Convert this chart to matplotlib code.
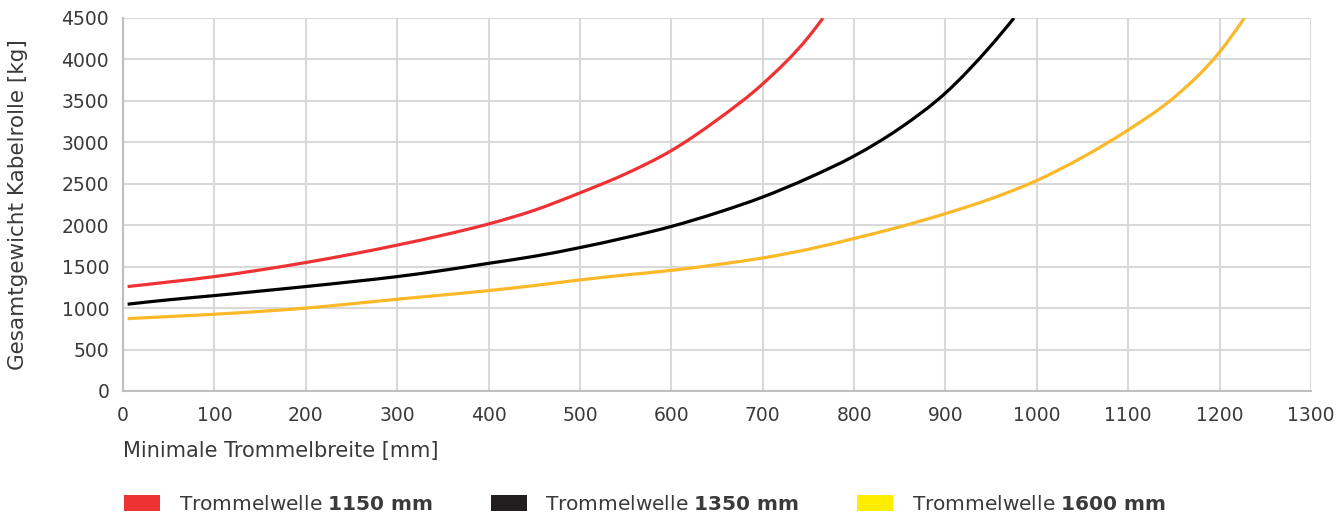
import numpy as np
import matplotlib.pyplot as plt
from matplotlib.patches import Patch, PathPatch
from matplotlib.path import Path

plt.rcParams['font.family'] = ['DejaVu Sans']
plt.rcParams['mathtext.fontset'] = 'dejavusans'

# Werte
x_1150 = [5, 50, 100, 150, 200, 250, 300, 350, 400, 450, 500, 550, 600, 650, 700, 750, 766]
y_1150 = [1260, 1315, 1380, 1460, 1550, 1650, 1760, 1880, 2015, 2180, 2390, 2620, 2900, 3270, 3705, 4270, 4500]

x_1350 = [5, 50, 100, 150, 200, 250, 300, 350, 400, 450, 500, 550, 600, 650, 700, 750, 800, 850,
          900, 950, 975]
y_1350 = [1047, 1100, 1151, 1205, 1260, 1318, 1380, 1455, 1540, 1625, 1730, 1850, 1985, 2150, 2340,
          2570, 2835, 3170, 3595, 4170, 4500]

x_1600 = [5, 50, 100, 150, 200, 250, 300, 350, 400, 450, 500, 550, 600, 650, 700, 750, 800, 850,
          900, 950, 1000, 1050, 1100, 1150, 1200, 1227]
y_1600 = [873, 898, 926, 960, 1000, 1052, 1107, 1158, 1211, 1272, 1340, 1400, 1455, 1525, 1605, 1710,
          1840, 1980, 2140, 2320, 2540, 2820, 3150, 3540, 4090, 4500]

labels = [r'Trommelwelle $\mathbf{1150\ mm}$',
          r'Trommelwelle $\mathbf{1350\ mm}$',
          r'Trommelwelle $\mathbf{1600\ mm}$']
line_colors = ['#EE3234', '#000000', '#FBB829']
legend_colors = ['#EE3234', '#231F20', '#FFED00']
text_color = '#3A3A3A'


def smooth_path(xs, ys):
    # geglaettete Linie (kubische Hermite-Kurve als Bezier)
    x = np.asarray(xs, float)
    y = np.asarray(ys, float)
    h = np.diff(x)
    d = np.diff(y) / h
    m = np.empty_like(y)
    m[1:-1] = (h[:-1] * d[1:] + h[1:] * d[:-1]) / (h[:-1] + h[1:])
    m[0] = ((2 * h[0] + h[1]) * d[0] - h[0] * d[1]) / (h[0] + h[1])
    m[-1] = ((2 * h[-1] + h[-2]) * d[-1] - h[-1] * d[-2]) / (h[-1] + h[-2])
    verts = [(x[0], y[0])]
    codes = [Path.MOVETO]
    for i in range(len(x) - 1):
        verts += [(x[i] + h[i] / 3, y[i] + m[i] * h[i] / 3),
                  (x[i + 1] - h[i] / 3, y[i + 1] - m[i + 1] * h[i] / 3),
                  (x[i + 1], y[i + 1])]
        codes += [Path.CURVE4] * 3
    return Path(verts, codes)


fig = plt.figure(figsize=(13.42, 5.15), dpi=100)
ax = fig.add_axes([0.0917, 0.2408, 0.8852, 0.7243])

for xs, ys, c in zip([x_1150, x_1350, x_1600], [y_1150, y_1350, y_1600], line_colors):
    ax.add_patch(PathPatch(smooth_path(xs, ys), facecolor='none', edgecolor=c, lw=2.3))

ax.set_xlim(0, 1300)
ax.set_ylim(0, 4500)
ax.set_xticks(np.arange(0, 1301, 100))
ax.set_yticks(np.arange(0, 4501, 500))
ax.grid(True, color='#D9D9D9', lw=1.5)
ax.set_axisbelow(True)
for s in ['top', 'right']:
    ax.spines[s].set_visible(False)
for s in ['left', 'bottom']:
    ax.spines[s].set_color('#BFBFBF')
    ax.spines[s].set_linewidth(1.5)
ax.tick_params(length=0, labelsize=13.5, colors=text_color)
ax.tick_params(axis='x', pad=11)
ax.tick_params(axis='y', pad=10)

fig.text(0.0917, 0.124, 'Minimale Trommelbreite [mm]', fontsize=15, color=text_color, va='center', ha='left')
fig.text(0.0134, 0.602, 'Gesamtgewicht Kabelrolle [kg]', fontsize=15.5, color=text_color,
         rotation=90, va='center', ha='center')

handles = [Patch(facecolor=c, edgecolor='none') for c in legend_colors]
fig.legend(handles, labels, loc='center left', bbox_to_anchor=(0.079, 0.02), ncol=3,
           frameon=False, fontsize=14.5, handlelength=1.8, handleheight=0.85,
           handletextpad=0.9, columnspacing=2.9, labelcolor=text_color)

fig.savefig('out.png', dpi=100)
